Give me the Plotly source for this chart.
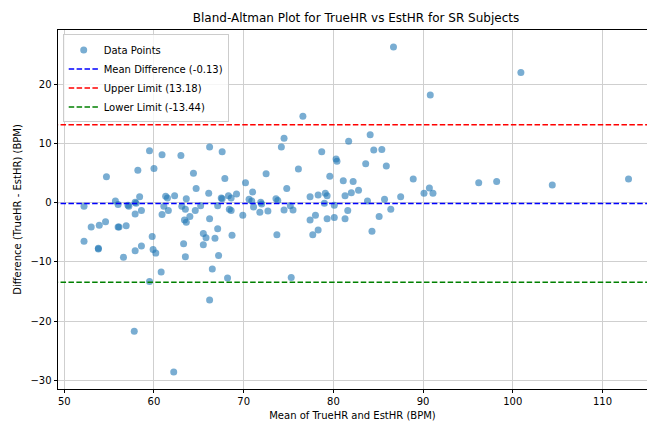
import plotly.graph_objects as go

# ---- data ----
mean_hr = [52.2, 52.2, 53.0, 53.8, 53.8, 53.9, 54.6, 54.7, 55.7, 56.0, 56.0, 56.1, 56.6, 56.9, 57.1, 57.2,
           57.8, 57.9, 57.9, 57.9, 58.0, 58.2, 58.4, 58.6, 58.6, 59.5, 59.5, 59.8, 59.9, 60.0, 60.2,
           60.8, 60.9, 60.9, 61.1, 61.3, 61.5, 61.6, 62.2, 62.3, 63.0, 63.1, 63.4, 63.3, 63.5, 63.5,
           63.6, 63.6, 64.0, 64.4, 64.6, 64.7, 65.2, 65.5, 65.5, 65.8, 66.1, 66.2, 66.2, 66.2, 66.8,
           67.1, 67.1, 67.2, 66.5, 67.5, 67.6, 67.6, 67.9, 68.2, 68.3, 68.4, 68.6, 68.6, 68.7, 69.2,
           69.9, 70.2, 70.6, 70.9, 71.0, 71.1,
           71.8, 71.9, 72.0, 72.5, 72.7, 73.6, 73.7, 73.8, 74.2, 74.5, 74.5, 74.8, 75.2, 75.3, 75.5,
           76.1, 76.6, 77.4, 77.4, 77.7, 78.0, 78.3, 78.3, 78.7, 79.0, 79.1, 79.3, 79.3, 79.6, 80.1,
           80.1, 80.3, 80.4, 81.1, 81.3, 81.3, 81.6, 81.7, 82.0, 82.2, 82.8, 83.6, 83.8, 84.1, 84.3,
           84.5, 85.1, 85.4, 85.7, 85.9, 86.4, 86.7, 87.5, 88.9, 90.1, 90.7, 90.8, 91.1,
           96.2, 98.2, 100.9, 104.4, 112.9]
diff_hr = [-0.6, -6.5, -4.1, -7.8, -7.7, -3.8, -3.2, 4.4, 0.3, -0.3, -4.1, -4.1, -9.2, -3.9, -0.4, -0.6,
           -21.7, -8.1, -1.9, 0.1, -0.1, 5.5, 1.0, -1.3, -7.3, 8.8, -13.3, -5.7, -7.9, 5.8, -8.5,
           -11.7, 8.1, -2.0, -0.6, 1.1, 0.8, -1.3, -28.6, 1.2, 8.0, -0.6, -2.9, -6.9, -9.1, -1.1,
           0.7, -3.3, -2.3, 5.0, -1.3, 2.4, -0.5, -5.2, -7.1, -5.9, 1.6, 9.4, -2.7, -16.4, -6.0,
           -4.4, -0.5, -8.9, -11.2, 0.8, 0.7, 8.6, 4.1, -12.7, 1.2, -1.1, 0.8, -1.3, -5.5, 1.5,
           -2.1, 3.4, 0.6, 0.3, 1.8, -0.7,
           -1.6, 0.1, -0.2, 4.9, -1.4, 0.7, -5.4, 0.4, 9.4, 10.9, -1.2, 2.4, -0.5, -12.6, -1.2,
           5.7, 14.6, -2.9, 1.0, -5.4, -2.1, -4.6, 1.3, 8.6, -0.1, 1.6, 1.2, -2.7, 4.5, -2.5,
           -0.4, 7.4, 7.0, 3.7, 1.2, -2.7, -1.3, 10.4, 1.7, 3.6, 2.1, 6.6, 0.3, 11.5, -4.8,
           8.9, -2.3, 9.0, 0.6, 6.2, -1.1, 26.3, 1.0, 4.0, 1.6, 2.5, 18.2, 1.6,
           3.4, 3.6, 22.0, 3.0, 4.0]

mean_diff = -0.13
upper_limit = 13.18
lower_limit = -13.44

x_range = [49.3, 114.96]
y_range = [-31.45, 29.18]
x_ticks = [50, 60, 70, 80, 90, 100, 110]
y_ticks = [-30, -20, -10, 0, 10, 20]

FONT = "DejaVu Sans"

fig = go.Figure()
fig.add_trace(go.Scatter(
    x=mean_hr, y=diff_hr, mode="markers", name="Data Points",
    marker=dict(size=7, color="#1f77b4", opacity=0.6, line=dict(width=0)),
))

for val, col, label in [
    (mean_diff, "#0000ff", f"Mean Difference ({mean_diff:.2f})"),
    (upper_limit, "#ff0000", f"Upper Limit ({upper_limit:.2f})"),
    (lower_limit, "#008000", f"Lower Limit ({lower_limit:.2f})"),
]:
    fig.add_trace(go.Scatter(
        x=[x_range[0] - 5, x_range[1] + 5], y=[val, val], mode="lines", name=label,
        line=dict(color=col, width=1.5, dash="5.5px,2.4px"),
    ))

axis_common = dict(
    showgrid=True, gridcolor="#cfcfcf", gridwidth=1,
    zeroline=False, showline=True, linecolor="black", linewidth=0.8,
    ticks="outside", ticklen=3.5, tickwidth=0.8, tickcolor="black",
    tickfont=dict(family=FONT, size=10, color="black"),
)

fig.update_layout(
    width=647, height=421,
    margin=dict(l=58, r=0, t=30, b=32),
    paper_bgcolor="white", plot_bgcolor="white",
    font=dict(family=FONT, size=10, color="black"),
    title=dict(text="Bland-Altman Plot for TrueHR vs EstHR for SR Subjects",
               x=356 / 647, xanchor="center", y=1 - 18 / 421, yanchor="middle",
               font=dict(family=FONT, size=12, color="black")),
    xaxis=dict(range=x_range, tickvals=x_ticks, mirror=True, automargin=False,
               title=dict(text="Mean of TrueHR and EstHR (BPM)", standoff=8,
                          font=dict(family=FONT, size=10, color="black")),
               **axis_common),
    yaxis=dict(range=y_range, tickvals=y_ticks, mirror=False, automargin=False,
               title=dict(text="Difference (TrueHR - EstHR) (BPM)", standoff=6,
                          font=dict(family=FONT, size=10, color="black")),
               **axis_common),
    legend=dict(x=0.008, y=0.9875, xanchor="left", yanchor="top",
                bgcolor="rgba(255,255,255,0.8)", bordercolor="#cccccc", borderwidth=1,
                font=dict(family=FONT, size=10, color="black"),
                tracegroupgap=0, itemwidth=30),
    showlegend=True,
)

fig.write_html("out.html")
